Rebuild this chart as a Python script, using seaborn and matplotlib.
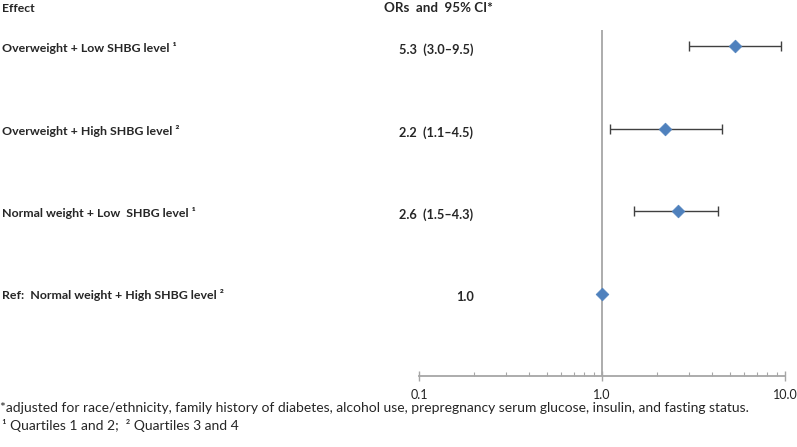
import numpy as np
import pandas as pd
import seaborn as sns
import matplotlib.pyplot as plt
from matplotlib.ticker import FixedLocator, NullFormatter

# data
effects = [
    "Overweight + Low SHBG level \u00b9",
    "Overweight + High SHBG level \u00b2",
    "Normal weight + Low  SHBG level \u00b9",
    "Ref:  Normal weight + High SHBG level \u00b2",
]
odds_ratios = [5.3, 2.2, 2.6, 1.0]
ci_low = [3.0, 1.1, 1.5, 1.0]
ci_high = [9.5, 4.5, 4.3, 1.0]
or_labels = ["5.3  (3.0\u20139.5)", "2.2  (1.1\u20134.5)", "2.6  (1.5\u20134.3)", "1.0"]
x_ticks = [0.1, 1.0, 10.0]
x_tick_labels = ["0.1", "1.0", "10.0"]

df = pd.DataFrame({
    "effect": effects,
    "or": odds_ratios,
    "lo": ci_low,
    "hi": ci_high,
    "row": [4, 3, 2, 1],
})

sns.set_theme(style="white")
plt.rcParams["font.family"] = ["Lato", "DejaVu Sans"]

W, H = 797, 447
fig = plt.figure(figsize=(W / 100, H / 100), dpi=100)
ax = fig.add_axes([419 / W, 1 - 376 / H, (785 - 419) / W, (376 - 30) / H])

# error bars (only where a CI exists)
ci = df[df["hi"] > df["lo"]]
ax.errorbar(
    ci["or"], ci["row"],
    xerr=[ci["or"] - ci["lo"], ci["hi"] - ci["or"]],
    fmt="none", ecolor="#404040", elinewidth=1.0, capsize=3.5, capthick=1.0, zorder=2,
)
ax.axvline(1.0, color="#a6a6a6", lw=1.3, zorder=1)
sns.scatterplot(
    data=df, x="or", y="row", marker="D", s=42, color="#4f81bd",
    edgecolor="#4f81bd", linewidth=0.5, ax=ax, zorder=3, legend=False,
)

ax.set_xscale("log")
ax.set_xlim(0.1, 10)
ax.set_ylim(0, 4.2)
ax.set_yticks([])
ax.set_xlabel("")
ax.set_ylabel("")
for side in ["top", "right", "left"]:
    ax.spines[side].set_visible(False)
ax.spines["bottom"].set_color("#a6a6a6")
ax.spines["bottom"].set_linewidth(1.3)

ax.xaxis.set_major_locator(FixedLocator(x_ticks))
ax.set_xticklabels(x_tick_labels, fontsize=9, color="#222222")
minor = [m * d for d in [0.1, 1.0] for m in range(2, 10)]
ax.xaxis.set_minor_locator(FixedLocator(minor))
ax.xaxis.set_minor_formatter(NullFormatter())
ax.tick_params(axis="x", which="major", direction="inout", length=7, width=1.0,
               color="#a6a6a6", bottom=True, pad=6)
ax.tick_params(axis="x", which="minor", direction="in", length=3, width=0.8,
               color="#a6a6a6", bottom=True)

# left-hand text columns
fig.text(2 / W, 1 - 8 / H, "Effect", fontsize=8.8, fontweight="bold", va="center")
fig.text(384 / W, 1 - 8 / H, "ORs  and  95% CI*", fontsize=9.6, fontweight="bold", va="center")
row_px = [48, 131, 213, 295]
or_x = [399, 399, 399, 456]
for lab, orl, yp, xp in zip(effects, or_labels, row_px, or_x):
    fig.text(2 / W, 1 - yp / H, lab, fontsize=8.9, fontweight="bold", va="center")
    fig.text(xp / W, 1 - (yp + 2) / H, orl, fontsize=9.2, fontweight="bold", va="center")

# footnotes
fig.text(0, 1 - 408 / H,
         "*adjusted for race/ethnicity, family history of diabetes, alcohol use, "
         "prepregnancy serum glucose, insulin, and fasting status.",
         fontsize=10, va="center")
fig.text(2 / W, 1 - 425 / H, "\u00b9 Quartiles 1 and 2;  \u00b2 Quartiles 3 and 4",
         fontsize=10, va="center")

fig.savefig("out.png", dpi=100)
